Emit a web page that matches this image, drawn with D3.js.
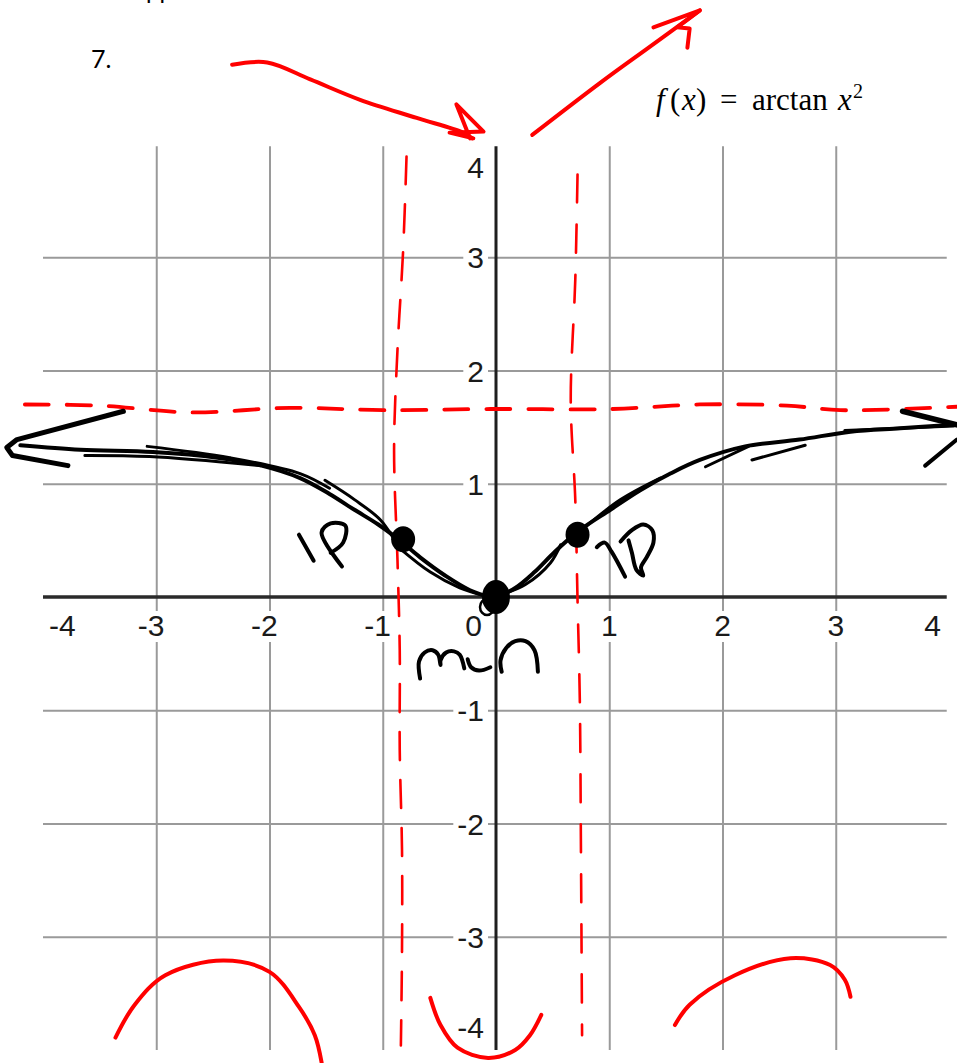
<!DOCTYPE html>
<html>
<head>
<meta charset="utf-8">
<script src="https://cdn.jsdelivr.net/npm/d3@7"></script>
<style>
  html, body { margin: 0; padding: 0; background: #fff; }
  svg { display: block; }
</style>
</head>
<body>
<svg id="chart" width="957" height="1063"></svg>
<script>
// ---- axis / grid values ----
const xDomain = [-4, 4];
const yDomain = [-4, 4];
const gridX = [-3, -2, -1, 1, 2, 3];
const gridY = [-3, -2, -1, 1, 2, 3];
const xTickLabels = [-4, -3, -2, -1, 0, 1, 2, 3, 4];
const yTickLabels = [4, 3, 2, 1, -1, -2, -3, -4];

// ---- sketched graph of f(x) = arctan x^2 (pen strokes, in graph units) ----
const curveLeft = [[-4.20,1.34],[-3.67,1.30],[-3.03,1.28],[-2.46,1.23],[-2.07,1.16],[-1.73,1.05],[-1.47,0.91],[-1.25,0.77],[-1.04,0.64],[-0.85,0.50],[-0.67,0.35],[-0.45,0.19],[-0.23,0.06],[-0.02,-0.01]];
const curveRight = [[-0.02,-0.01],[0.17,0.08],[0.34,0.22],[0.52,0.40],[0.74,0.59],[1.01,0.77],[1.27,0.94],[1.54,1.09],[1.80,1.21],[2.20,1.33],[2.68,1.39],[3.13,1.46],[3.57,1.49],[4.04,1.52]];
const curveExtraStrokes = [
  [[-3.63,1.25],[-3.06,1.24],[-2.08,1.16]],
  [[-3.08,1.33],[-2.35,1.23],[-1.73,1.09],[-1.47,0.96]],
  [[-1.51,1.03],[-1.25,0.86],[-1.02,0.68],[-0.87,0.46]],
  [[-0.85,0.43],[-0.58,0.22],[-0.32,0.08],[-0.10,0.01]],
  [[0.04,0.02],[0.26,0.11],[0.48,0.30],[0.57,0.46]],
  [[0.79,0.62],[1.10,0.86],[1.45,1.05]],
  [[1.85,1.15],[2.23,1.33]],
  [[2.26,1.21],[2.73,1.34]],
  [[3.08,1.47],[4.04,1.51]]
];
const arrowLeft = [[-3.29,1.64],[-4.23,1.39],[-4.32,1.32],[-4.27,1.25],[-3.78,1.16]];
const arrowRightTop = [[3.59,1.64],[4.07,1.52]];
const arrowRightBottom = [[3.79,1.16],[4.07,1.39]];

// marked points: two inflection points and the minimum
const inflectionPoints = [[-0.82,0.51],[0.72,0.55]];
const minimumPoint = [0, 0];

// handwritten labels
const ipLeftI = [[-1.74,0.55],[-1.61,0.32]];
const ipLeftP = [[-1.36,0.27],[-1.54,0.57],[-1.46,0.65],[-1.33,0.63],[-1.35,0.48],[-1.46,0.39]];
const ipRightI = [[0.89,0.44],[0.96,0.48],[1.02,0.40],[1.14,0.18]];
const ipRightP = [[1.10,0.49],[1.20,0.59],[1.30,0.64],[1.38,0.59],[1.39,0.48],[1.33,0.35],[1.28,0.26],[1.30,0.19],[1.24,0.24],[1.20,0.39],[1.17,0.50]];
const minM = [[-0.67,-0.72],[-0.68,-0.57],[-0.63,-0.49],[-0.56,-0.47],[-0.51,-0.51],[-0.49,-0.60],[-0.49,-0.56],[-0.44,-0.49],[-0.37,-0.48],[-0.32,-0.51],[-0.28,-0.63]];
const minU = [[-0.25,-0.55],[-0.22,-0.62],[-0.15,-0.65],[-0.05,-0.62]];
const minN = [[0.05,-0.66],[0.04,-0.56],[0.09,-0.45],[0.17,-0.39],[0.26,-0.39],[0.34,-0.47],[0.37,-0.66]];

// ---- red pen: asymptotes, end behaviour arrows ----
const asymptoteH = [[-4.16,1.70],[-3.50,1.69],[-2.70,1.63],[-1.82,1.67],[-1.00,1.65],[-0.05,1.66],[1.03,1.66],[1.80,1.70],[2.57,1.69],[3.04,1.65],[4.07,1.68]];
const dashLeftV = [[-0.79,3.89],[-0.82,3.06],[-0.87,2.18],[-0.90,1.30],[-0.87,0.33],[-0.85,-0.47],[-0.85,-1.35],[-0.83,-2.23],[-0.83,-3.12],[-0.84,-3.96]];
const dashRightV = [[0.72,3.73],[0.70,2.80],[0.66,1.74],[0.70,0.86],[0.72,-0.03],[0.74,-0.91],[0.75,-2.23],[0.76,-3.87]];
const redArrowInShaft = [[-2.33,4.70],[-2.02,4.72],[-1.64,4.57],[-1.20,4.39],[-0.70,4.23],[-0.29,4.10],[-0.21,4.05]];
const redArrowInHead = [[-0.23,4.05],[-0.35,4.35],[-0.11,4.11],[-0.41,4.10],[-0.20,4.05]];
const redArrowOutShaft = [[0.32,4.08],[0.92,4.54],[1.36,4.86],[1.80,5.18]];
const redArrowOutHead = [[1.39,5.03],[1.80,5.18],[1.60,5.03],[1.71,5.02],[1.69,4.85]];
const concaveDownLeft = [[-3.36,-3.89],[-3.19,-3.60],[-2.92,-3.34],[-2.41,-3.21],[-2.00,-3.31],[-1.74,-3.62],[-1.60,-3.87],[-1.54,-4.11]];
const concaveUpMiddle = [[-0.58,-3.54],[-0.49,-3.78],[-0.34,-3.98],[-0.07,-4.07],[0.17,-4.00],[0.30,-3.87],[0.40,-3.69]];
const concaveDownRight = [[1.58,-3.78],[1.71,-3.60],[2.11,-3.34],[2.60,-3.19],[2.95,-3.25],[3.08,-3.38],[3.13,-3.53]];

// ---- scales ----
const svg = d3.select("#chart");
const x = d3.scaleLinear().domain(xDomain).range([43, 949]);
const y = d3.scaleLinear().domain(yDomain).range([1050, 144]);

// header text (first line runs off the top of the sheet)
svg.append("text")
  .attr("x", 146).attr("y", -1)
  .attr("font-family", "Lato, 'Open Sans', sans-serif")
  .attr("font-size", 24).attr("fill", "#000")
  .text("pp");

svg.append("text")
  .attr("x", 91).attr("y", 68)
  .attr("font-family", "Lato, 'Open Sans', sans-serif")
  .attr("font-size", 25).attr("fill", "#000")
  .text("7.");

// function definition, laid out glyph group by glyph group
const serif = "'Liberation Serif', 'DejaVu Serif', serif";
const fx = svg.append("text")
  .attr("y", 110)
  .attr("font-family", serif)
  .attr("font-size", 31).attr("fill", "#000");
fx.append("tspan").attr("x", 656).attr("font-style", "italic").text("f");
fx.append("tspan").attr("x", 670).text("(");
fx.append("tspan").attr("x", 682).attr("font-style", "italic").text("x");
fx.append("tspan").attr("x", 696).text(")");
fx.append("tspan").attr("x", 720).text("=");
fx.append("tspan").attr("x", 752).text("arctan");
fx.append("tspan").attr("x", 838).attr("font-style", "italic").text("x");
fx.append("tspan").attr("x", 853).attr("font-size", 20).attr("dy", -12).text("2");

// ---- grid ----
const gridColor = "#9a9a9a";
const gx = svg.append("g")
  .attr("transform", `translate(0,${y(-4)})`)
  .call(d3.axisBottom(x).tickValues(gridX).tickSize(-(y(-4) - y(3.98))).tickFormat(""));
gx.select(".domain").remove();
gx.selectAll(".tick line").attr("stroke", gridColor).attr("stroke-width", 2);

const gy = svg.append("g")
  .attr("transform", `translate(${x(-4)},0)`)
  .call(d3.axisLeft(y).tickValues(gridY).tickSize(-(x(3.98) - x(-4))).tickFormat(""));
gy.select(".domain").remove();
gy.selectAll(".tick line").attr("stroke", gridColor).attr("stroke-width", 2);

// ---- tick labels with white backing ----
const labelFont = "'Liberation Sans', Arial, sans-serif";
const labelSize = 30;
const labels = svg.append("g");

function addLabel(tx, ty, anchor, str) {
  const g = labels.append("g");
  const t = g.append("text")
    .attr("x", tx).attr("y", ty)
    .attr("text-anchor", anchor)
    .attr("font-family", labelFont)
    .attr("font-size", labelSize)
    .attr("fill", "#1a1a1a")
    .text(str);
  const b = t.node().getBBox();
  g.insert("rect", "text")
    .attr("x", b.x - 4).attr("y", b.y + 2)
    .attr("width", b.width + 8).attr("height", b.height - 2)
    .attr("fill", "#fff");
}

const digitHalf = 8.3;
xTickLabels.forEach(v => {
  const base = y(0) + 39;
  if (v === 0) {
    addLabel(x(0) - 14, base, "end", "0");
  } else if (v === xDomain[0]) {
    addLabel(x(v) + 6, base, "start", String(v));
  } else if (v === xDomain[1]) {
    addLabel(x(v) - 8, base, "end", String(v));
  } else if (v < 0) {
    addLabel(x(v) + digitHalf, base, "end", String(v));
  } else {
    addLabel(x(v), base, "middle", String(v));
  }
});

yTickLabels.forEach(v => {
  let cy = y(v);
  if (v === yDomain[1]) cy = y(v) + 23;
  if (v === yDomain[0]) cy = y(v) - 23;
  addLabel(x(0) - 12, cy + 11, "end", String(v));
});

// ---- axes ----
svg.append("line")
  .attr("x1", x(-4)).attr("x2", x(3.98))
  .attr("y1", y(0)).attr("y2", y(0))
  .attr("stroke", "#2a2a2a").attr("stroke-width", 3.5);
svg.append("line")
  .attr("x1", x(0)).attr("x2", x(0))
  .attr("y1", y(3.98)).attr("y2", y(-4))
  .attr("stroke", "#1f1f1f").attr("stroke-width", 3);

// ---- pen annotations ----
const smooth = d3.line().x(d => x(d[0])).y(d => y(d[1])).curve(d3.curveCatmullRom.alpha(0.5));
const straight = d3.line().x(d => x(d[0])).y(d => y(d[1]));
const ink = svg.append("g").attr("fill", "none").attr("stroke-linecap", "round").attr("stroke-linejoin", "round");

function stroke(data, color, width, gen, dash) {
  const p = ink.append("path").attr("d", gen(data))
    .attr("stroke", color).attr("stroke-width", width);
  if (dash) p.attr("stroke-dasharray", dash);
  return p;
}

const red = "#ff0000";
stroke(asymptoteH, red, 3.8, smooth, "24 18");
stroke(dashLeftV, red, 2.6, smooth, "28 20");
stroke(dashRightV, red, 2.6, smooth, "28 22");
stroke(redArrowInShaft, red, 4, smooth);
stroke(redArrowInHead, red, 4, straight);
stroke(redArrowOutShaft, red, 4, smooth);
stroke(redArrowOutHead, red, 4, straight);
stroke(concaveDownLeft, red, 4, smooth);
stroke(concaveUpMiddle, red, 4, smooth);
stroke(concaveDownRight, red, 4, smooth);

const black = "#000";
stroke(curveLeft, black, 4, smooth);
stroke(curveRight, black, 4, smooth);
curveExtraStrokes.forEach(s => stroke(s, black, 3, smooth));
stroke(arrowLeft, black, 5, straight);
stroke(arrowRightTop, black, 5.5, straight);
stroke(arrowRightBottom, black, 4, straight);

[ipLeftI, ipLeftP, ipRightI, ipRightP, minM, minU, minN].forEach(s => stroke(s, black, 4, smooth));

// dots
svg.selectAll("ellipse.ip").data(inflectionPoints).join("ellipse")
  .attr("class", "ip")
  .attr("cx", d => x(d[0])).attr("cy", d => y(d[1]))
  .attr("rx", 12).attr("ry", 13).attr("fill", black);

svg.append("ellipse")
  .attr("cx", x(minimumPoint[0])).attr("cy", y(minimumPoint[1]))
  .attr("rx", 14).attr("ry", 17).attr("fill", black);
svg.append("ellipse")
  .attr("cx", x(minimumPoint[0]) - 9).attr("cy", y(minimumPoint[1]) + 10)
  .attr("rx", 7).attr("ry", 8)
  .attr("fill", "none").attr("stroke", black).attr("stroke-width", 2.5);
</script>
</body>
</html>
